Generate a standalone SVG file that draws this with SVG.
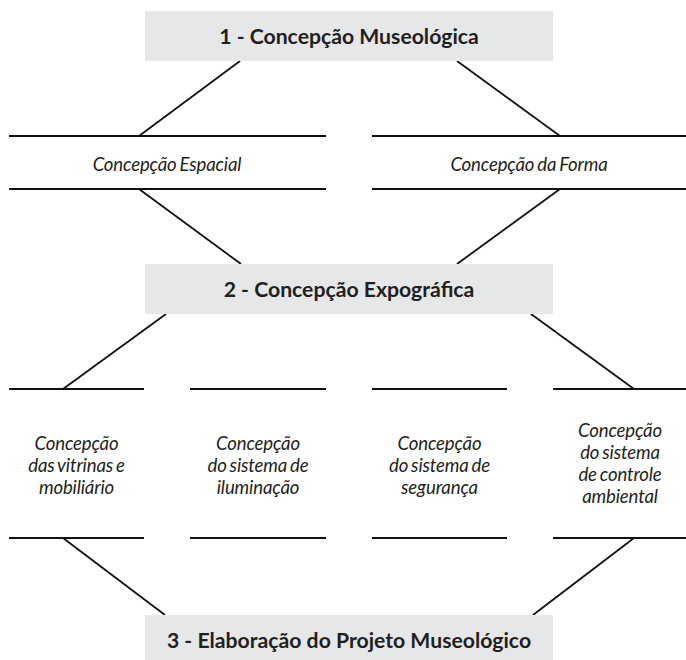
<svg xmlns="http://www.w3.org/2000/svg" width="686" height="660" viewBox="0 0 686 660">
<style>
.box{fill:#e6e7e8;}
.title{font-family:Lato,"Liberation Sans",sans-serif;font-weight:bold;font-size:21.2px;fill:#231f20;text-anchor:middle;}
.lbl{font-family:Lato,"Liberation Sans",sans-serif;font-style:italic;font-size:18.6px;letter-spacing:-0.15px;word-spacing:-1.3px;fill:#231f20;text-anchor:middle;}
.hl{stroke:#111;stroke-width:2;fill:none;}
.dl{stroke:#111;stroke-width:1.8;fill:none;}
</style>
<rect width="686" height="660" fill="#ffffff"/>
<g id="connectors">
<line class="dl" x1="240" y1="61" x2="139" y2="136"/>
<line class="dl" x1="457" y1="61" x2="560" y2="136"/>
<line class="dl" x1="139" y1="189" x2="241" y2="264"/>
<line class="dl" x1="560" y1="189" x2="457" y2="264"/>
<line class="dl" x1="166" y1="314" x2="63" y2="389"/>
<line class="dl" x1="531" y1="314" x2="634" y2="389"/>
<line class="dl" x1="63" y1="538" x2="165" y2="615"/>
<line class="dl" x1="634" y1="538" x2="533" y2="615"/>
</g>
<g id="n1">
<rect class="box" x="145" y="11" width="408" height="50"/>
<text class="title" x="349" y="44.3">1 - Concepção Museológica</text>
</g>
<g id="espacial">
<line class="hl" x1="9" y1="136" x2="326" y2="136"/>
<line class="hl" x1="9" y1="189" x2="326" y2="189"/>
<text class="lbl" x="167" y="170.5">Concepção Espacial</text>
</g>
<g id="forma">
<line class="hl" x1="372" y1="136" x2="686" y2="136"/>
<line class="hl" x1="372" y1="189" x2="686" y2="189"/>
<text class="lbl" x="529" y="170.5">Concepção da Forma</text>
</g>
<g id="n2">
<rect class="box" x="145" y="264" width="408" height="50"/>
<text class="title" x="349" y="296.8">2 - Concepção Expográfica</text>
</g>
<g id="vitrinas">
<line class="hl" x1="9" y1="389" x2="144" y2="389"/>
<line class="hl" x1="9" y1="538" x2="144" y2="538"/>
<text class="lbl" x="76.5" y="449.5">Concepção</text>
<text class="lbl" x="76.5" y="471.7">das vitrinas e</text>
<text class="lbl" x="76.5" y="493.9">mobiliário</text>
</g>
<g id="iluminacao">
<line class="hl" x1="190" y1="389" x2="326" y2="389"/>
<line class="hl" x1="190" y1="538" x2="326" y2="538"/>
<text class="lbl" x="258" y="449.5">Concepção</text>
<text class="lbl" x="258" y="471.7">do sistema de</text>
<text class="lbl" x="258" y="493.9">iluminação</text>
</g>
<g id="seguranca">
<line class="hl" x1="372" y1="389" x2="507" y2="389"/>
<line class="hl" x1="372" y1="538" x2="507" y2="538"/>
<text class="lbl" x="439.5" y="449.5">Concepção</text>
<text class="lbl" x="439.5" y="471.7">do sistema de</text>
<text class="lbl" x="439.5" y="493.9">segurança</text>
</g>
<g id="ambiental">
<line class="hl" x1="553" y1="389" x2="686" y2="389"/>
<line class="hl" x1="553" y1="538" x2="686" y2="538"/>
<text class="lbl" x="620" y="436.7">Concepção</text>
<text class="lbl" x="620" y="458.9">do sistema</text>
<text class="lbl" x="620" y="481.1">de controle</text>
<text class="lbl" x="620" y="503.3">ambiental</text>
</g>
<g id="n3">
<rect class="box" x="145" y="615" width="408" height="50"/>
<text class="title" x="349" y="647.7">3 - Elaboração do Projeto Museológico</text>
</g>
</svg>
